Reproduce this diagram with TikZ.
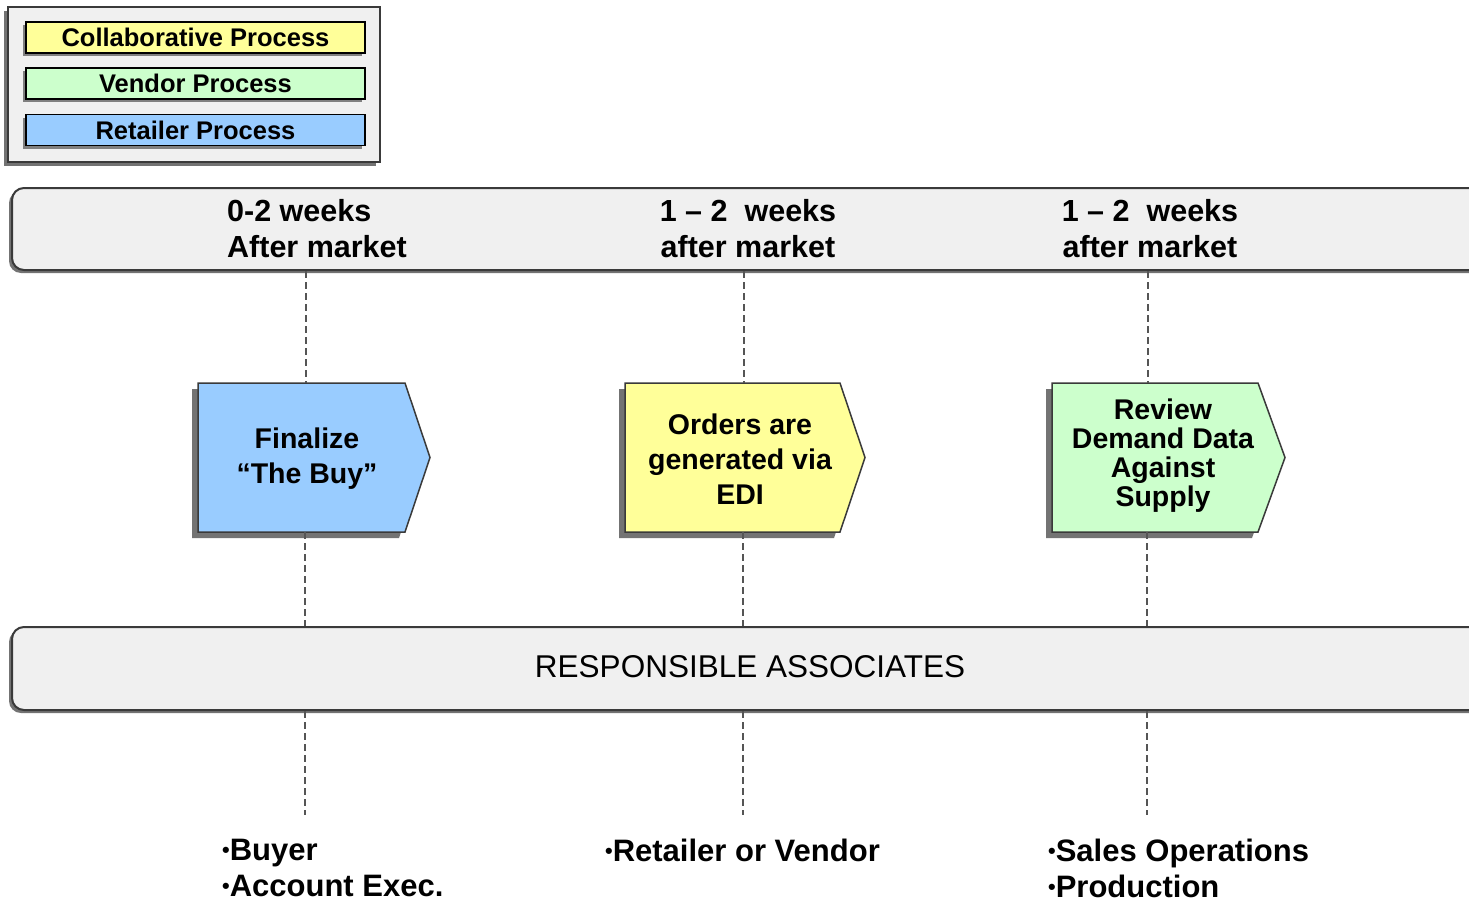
\documentclass[tikz,border=0pt]{standalone}
\usepackage{fontspec}
\setmainfont{Liberation Sans}
\usetikzlibrary{shadows}
\definecolor{procyellow}{HTML}{FFFF99}
\definecolor{procgreen}{HTML}{CCFFCC}
\definecolor{procblue}{HTML}{99CCFF}
\definecolor{bandfill}{HTML}{F0F0F0}
\definecolor{edge}{HTML}{3A3A3A}
\definecolor{dashgray}{HTML}{555555}
% small bullet for the name lists
\newcommand{\smallbul}{\raisebox{0.09em}{\scalebox{0.7}{•}}}
\tikzset{
  legendbox/.style={draw=edge, line width=1.5pt, fill=bandfill, inner sep=0pt,
    drop shadow={shadow xshift=-4pt, shadow yshift=-4pt, fill=black!55, opacity=1}},
  legendbar/.style={draw=black, line width=1.2pt, inner sep=0pt,
    minimum width=339pt, minimum height=31pt,
    font=\fontsize{25.5}{28}\selectfont\bfseries,
    drop shadow={shadow xshift=-3pt, shadow yshift=-3pt, fill=black!50, opacity=1}},
  band/.style={draw=edge, line width=2pt, fill=bandfill, rounded corners=12pt, inner sep=0pt,
    drop shadow={shadow xshift=-3pt, shadow yshift=-3pt, fill=black!55, opacity=1}},
  timetext/.style={font=\fontsize{30.5}{36}\selectfont\bfseries, align=center, inner sep=0pt},
  proctext/.style={font=\fontsize{28.5}{35}\selectfont\bfseries, align=center, inner sep=0pt},
  proc/.style={draw=edge, line width=1.5pt,
    drop shadow={shadow xshift=-6pt, shadow yshift=-6pt, fill=black!55, opacity=1}},
  procframe/.style={inner sep=0pt, minimum height=149pt},
  who/.style={font=\fontsize{31}{36}\selectfont\bfseries, align=left, inner sep=0pt, anchor=west},
  guide/.style={draw=dashgray, line width=1.6pt, dash pattern=on 7pt off 4pt},
}
\begin{document}
\begin{tikzpicture}[x=1pt, y=-1pt]
\clip (0,0) rectangle (1469,902);
\fill[white] (0,0) rectangle (1469,902);

% legend
\node[legendbox, minimum width=372pt, minimum height=155pt] (legend) at (194,84.5) {};
\node[legendbar, fill=procyellow] (lcollab) at (195.5,37.5) {Collaborative Process};
\node[legendbar, fill=procgreen] (lvendor) at (195.5,83.5) {Vendor Process};
\node[legendbar, fill=procblue] (lretail) at (195.5,130) {Retailer Process};

% timing band
\node[band, minimum width=1500pt, minimum height=82pt] (top) at (762,229) {};
\node[timetext, align=left, anchor=west] (t1) at (227,229) {0-2 weeks\\After market};
\node[timetext] (t2) at (748,229) {1 -- 2~~weeks\\after market};
\node[timetext] (t3) at (1150,229) {1 -- 2~~weeks\\after market};

% process steps
\filldraw[proc, fill=procblue] (198,383) -- (405,383) -- (430,457.5) -- (405,532) -- (198,532) -- cycle;
\filldraw[proc, fill=procyellow] (625,383) -- (840,383) -- (865,457.5) -- (840,532) -- (625,532) -- cycle;
\filldraw[proc, fill=procgreen] (1052,383) -- (1258,383) -- (1285,457.5) -- (1258,532) -- (1052,532) -- cycle;
\node[procframe, minimum width=232pt] (p1) at (314,457.5) {};
\node[procframe, minimum width=240pt] (p2) at (745,457.5) {};
\node[procframe, minimum width=233pt] (p3) at (1168.5,457.5) {};
\node[proctext] at (307,458.5) {Finalize\\“The Buy”};
\node[proctext] at (740,459) {Orders are\\generated via\\EDI};
\node[proctext, font=\fontsize{28.5}{29}\selectfont\bfseries] at (1163,456) {Review\\Demand Data\\Against\\Supply};

% associates band
\node[band, minimum width=1500pt, minimum height=83pt] (assoc) at (762,668.5) {};
\node[inner sep=0pt, font=\fontsize{31.5}{36}\selectfont] (assoctext) at (750,667) {RESPONSIBLE ASSOCIATES};

% column guides
\coordinate (c1) at (306,0);
\coordinate (c2) at (744,0);
\coordinate (c3) at (1148,0);
\coordinate (e1) at (305,815);
\coordinate (e2) at (743,815);
\coordinate (e3) at (1147,815);
\draw[guide] (c1 |- top.south) -- (c1 |- p1.north);
\draw[guide] (c2 |- top.south) -- (c2 |- p2.north);
\draw[guide] (c3 |- top.south) -- (c3 |- p3.north);
\draw[guide] (e1 |- p1.south) -- (e1 |- assoc.north);
\draw[guide] (e2 |- p2.south) -- (e2 |- assoc.north);
\draw[guide] (e3 |- p3.south) -- (e3 |- assoc.north);
\draw[guide] (e1 |- assoc.south) -- (e1);
\draw[guide] (e2 |- assoc.south) -- (e2);
\draw[guide] (e3 |- assoc.south) -- (e3);

% people
\node[who] (w1) at (222,868) {\smallbul Buyer\\\smallbul Account Exec.};
\node[who] (w2) at (605,850) {\smallbul Retailer or Vendor};
\node[who] (w3) at (1048,868) {\smallbul Sales Operations\\\smallbul Production};
\end{tikzpicture}
\end{document}
